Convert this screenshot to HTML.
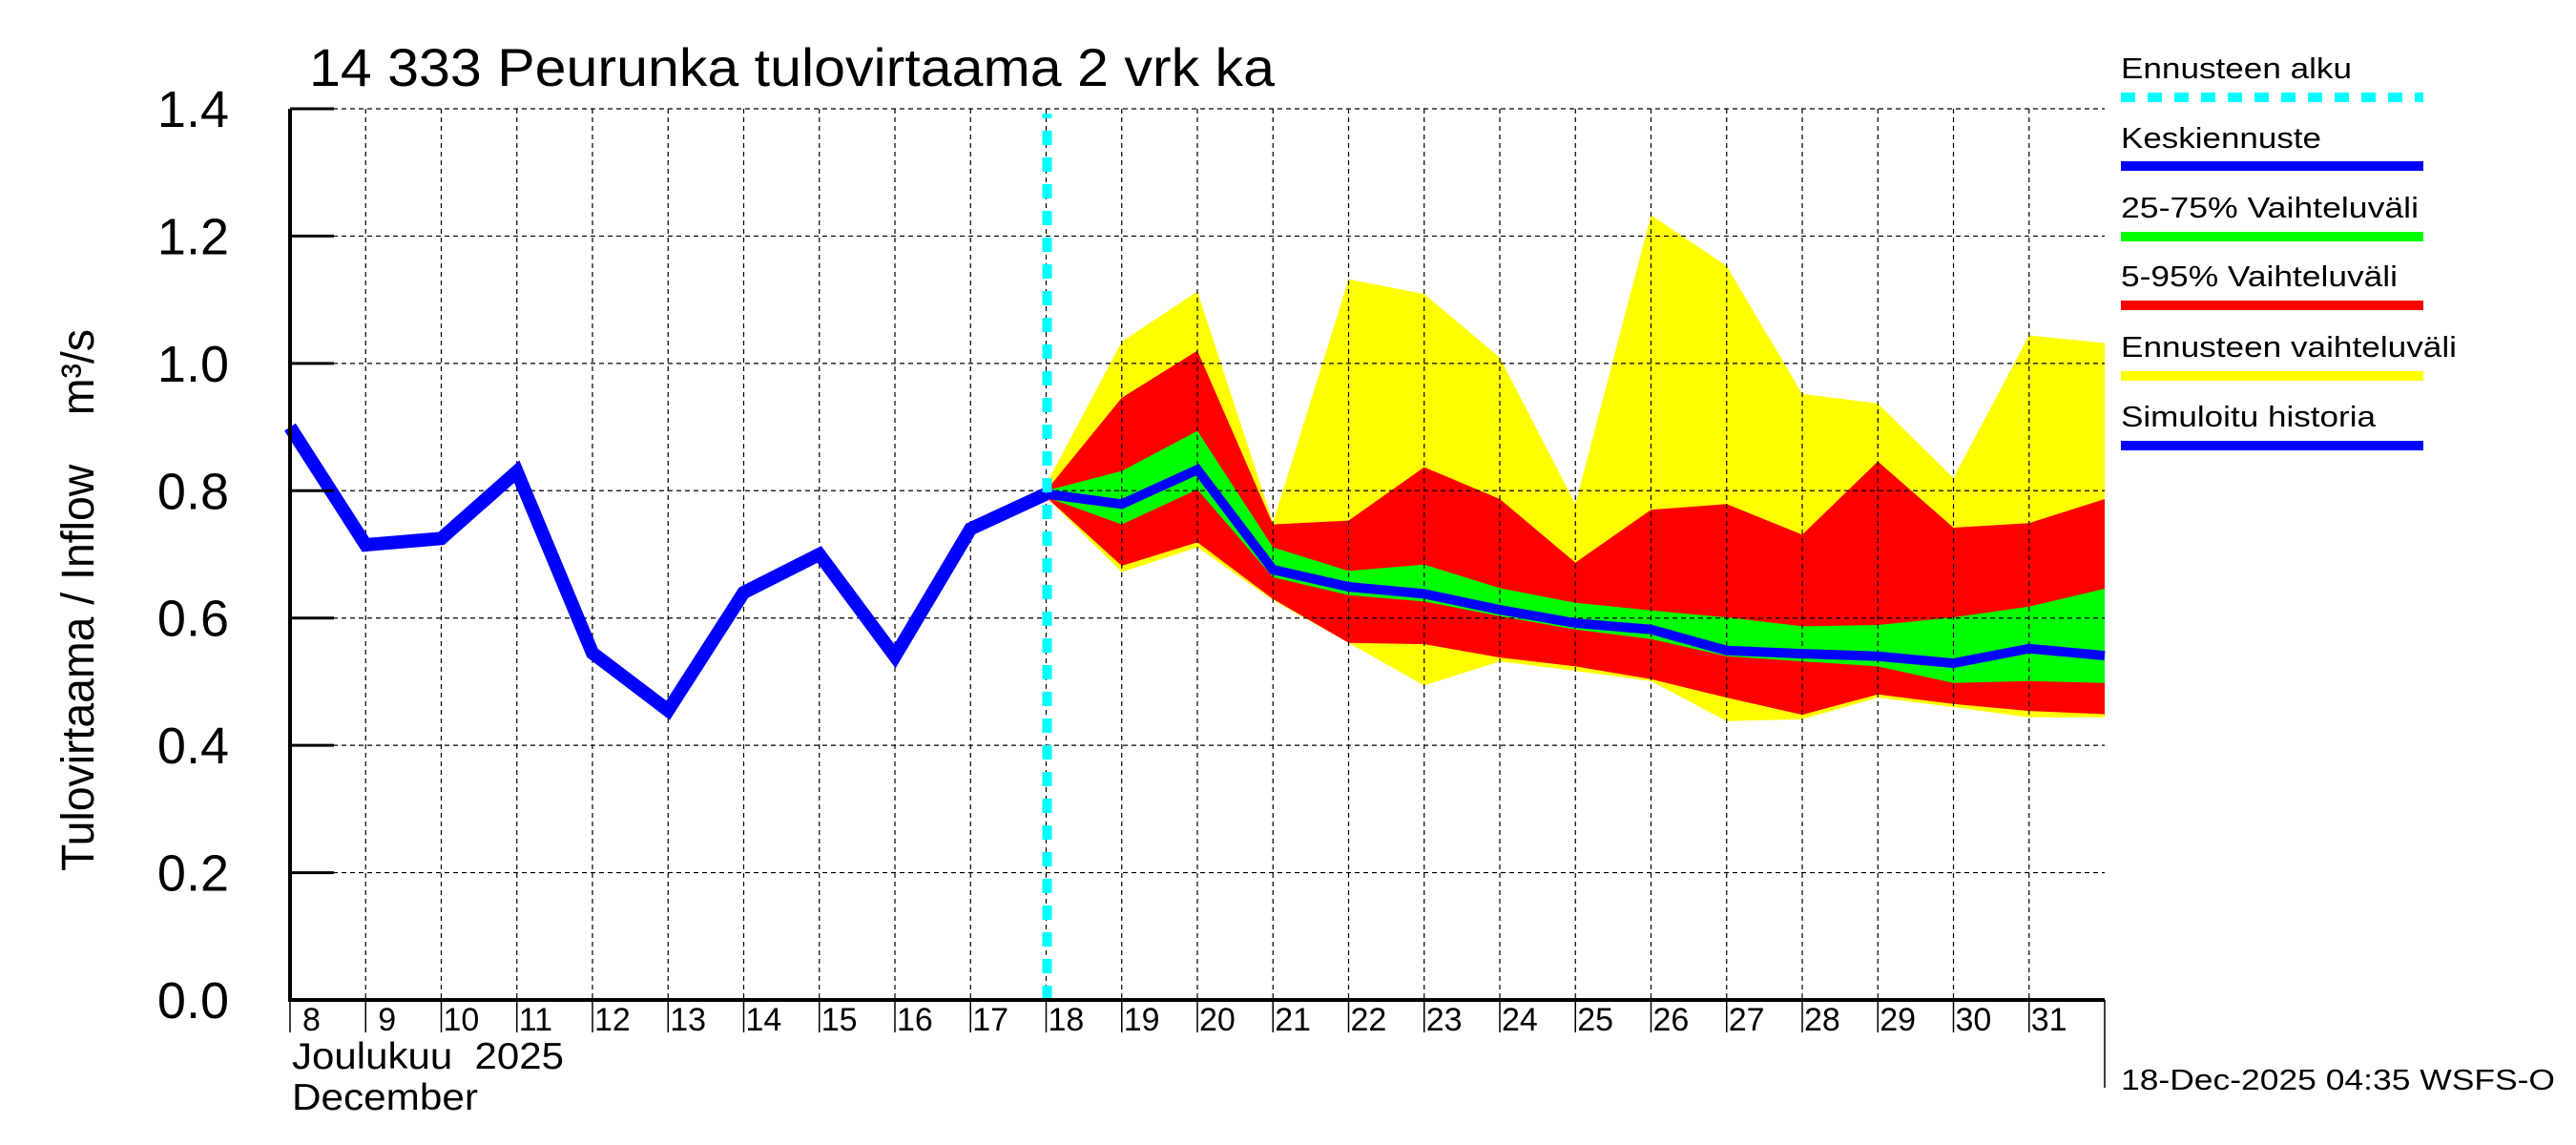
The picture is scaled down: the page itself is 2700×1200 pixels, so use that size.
<!DOCTYPE html>
<html><head><meta charset="utf-8"><style>
html,body{margin:0;padding:0;background:#fff;}
svg{display:block;font-family:"Liberation Sans",Arial,sans-serif;}
</style></head><body>
<svg id="chart" width="2700" height="1200" viewBox="0 0 2700 1200" xmlns="http://www.w3.org/2000/svg">
<g id="bands"></g>
<g id="grid"></g>
<g id="lines"></g>
<g id="axes"></g>
<text x="324" y="90" font-size="56" textLength="1012" lengthAdjust="spacingAndGlyphs">14 333 Peurunka tulovirtaama 2 vrk ka</text>
<text transform="translate(98,629) rotate(-90)" font-size="48" text-anchor="middle" style="white-space:pre" textLength="568" lengthAdjust="spacingAndGlyphs">Tulovirtaama / Inflow    m³/s</text>
<text x="306" y="1120" font-size="39" style="white-space:pre" textLength="285" lengthAdjust="spacingAndGlyphs">Joulukuu  2025</text>
<text x="306" y="1163" font-size="39" textLength="195" lengthAdjust="spacingAndGlyphs">December</text>
<text x="2223" y="1142" font-size="31" textLength="455" lengthAdjust="spacingAndGlyphs">18-Dec-2025 04:35 WSFS-O</text>
<g id="legend">
 <g><text x="2223" y="82" font-size="31" textLength="242" lengthAdjust="spacingAndGlyphs">Ennusteen alku</text><line x1="2223" y1="102" x2="2540" y2="102" stroke="#00ffff" stroke-width="10" stroke-dasharray="15,13"/></g>
 <g><text x="2223" y="155" font-size="31" textLength="210" lengthAdjust="spacingAndGlyphs">Keskiennuste</text><line x1="2223" y1="174" x2="2540" y2="174" stroke="#0000ff" stroke-width="10"/></g>
 <g><text x="2223" y="228" font-size="31" textLength="312" lengthAdjust="spacingAndGlyphs">25-75% Vaihteluväli</text><line x1="2223" y1="248" x2="2540" y2="248" stroke="#00ff00" stroke-width="10"/></g>
 <g><text x="2223" y="300" font-size="31" textLength="290" lengthAdjust="spacingAndGlyphs">5-95% Vaihteluväli</text><line x1="2223" y1="320" x2="2540" y2="320" stroke="#ff0000" stroke-width="10"/></g>
 <g><text x="2223" y="374" font-size="31" textLength="352" lengthAdjust="spacingAndGlyphs">Ennusteen vaihteluväli</text><line x1="2223" y1="394" x2="2540" y2="394" stroke="#ffff00" stroke-width="10"/></g>
 <g><text x="2223" y="447" font-size="31" textLength="267" lengthAdjust="spacingAndGlyphs">Simuloitu historia</text><line x1="2223" y1="467" x2="2540" y2="467" stroke="#0000ff" stroke-width="10"/></g>
</g>
</svg>
<script>
const histDays=[8,9,10,11,12,13,14,15,16,17,18];
const histVals=[0.90,0.715,0.725,0.83,0.545,0.455,0.64,0.70,0.54,0.74,0.795];
const fcDays=[18,19,20,21,22,23,24,25,26,27,28,29,30,31,32];
const median=[0.795,0.779,0.833,0.676,0.649,0.638,0.613,0.592,0.582,0.549,0.544,0.540,0.529,0.552,0.541];
const yelHi=[0.81,1.034,1.113,0.75,1.132,1.109,1.009,0.779,1.233,1.153,0.952,0.937,0.82,1.044,1.032];
const yelLo=[0.79,0.672,0.711,0.628,0.561,0.494,0.532,0.517,0.501,0.438,0.441,0.475,0.460,0.444,0.444];
const redHi=[0.80,0.946,1.02,0.747,0.753,0.837,0.787,0.687,0.77,0.779,0.731,0.846,0.742,0.749,0.787];
const redLo=[0.79,0.682,0.719,0.63,0.561,0.559,0.538,0.524,0.504,0.475,0.448,0.480,0.465,0.454,0.449];
const grnHi=[0.80,0.831,0.894,0.711,0.674,0.684,0.647,0.624,0.612,0.601,0.587,0.589,0.601,0.618,0.646];
const grnLo=[0.79,0.747,0.802,0.664,0.636,0.626,0.603,0.582,0.567,0.540,0.532,0.524,0.498,0.501,0.498];
const yTicks=[0,0.2,0.4,0.6,0.8,1.0,1.2,1.4];
const yTickLabels=["0.0","0.2","0.4","0.6","0.8","1.0","1.2","1.4"];
const xTickDays=[8,9,10,11,12,13,14,15,16,17,18,19,20,21,22,23,24,25,26,27,28,29,30,31];
const forecastStart=18;

const L=304,R=2206,T=114,B=1048;
const X=d=>L+(d-8)*(R-L)/24;
const Y=v=>B-v*(B-T)/1.4;
const NS='http://www.w3.org/2000/svg';
function mk(tag,attrs,parent){const e=document.createElementNS(NS,tag);for(const k in attrs)e.setAttribute(k,attrs[k]);parent.appendChild(e);return e;}
const bands=document.getElementById('bands'),grid=document.getElementById('grid'),lines=document.getElementById('lines'),axes=document.getElementById('axes');
function band(hi,lo,color,name){
 const pts=fcDays.map((d,i)=>X(d)+','+Y(hi[i])).concat(fcDays.slice().reverse().map((d,j)=>{const i=fcDays.length-1-j;return X(d)+','+Y(lo[i]);}));
 const p=mk('polygon',{points:pts.join(' '),fill:color},bands);
 
 
}
band(yelHi,yelLo,'#ffff00','band-range');
band(redHi,redLo,'#ff0000','band-5-95');
band(grnHi,grnLo,'#00ff00','band-25-75');
yTicks.forEach((v,i)=>{
 if(v>0){const g=mk('line',{x1:L,x2:R,y1:Y(v),y2:Y(v),stroke:'#000','stroke-width':1.2,'stroke-dasharray':'5,4'},grid);
 
 }
 const t=mk('line',{x1:L,x2:L+46,y1:Y(v),y2:Y(v),stroke:'#000','stroke-width':3},axes);
 
 
 const lb=mk('text',{x:240,y:Y(v)+19,'font-size':54,'text-anchor':'end'},axes);
 lb.textContent=yTickLabels[i];
 
 
});
xTickDays.forEach(d=>{
 if(d>8){const g=mk('line',{x1:X(d),x2:X(d),y1:T,y2:B,stroke:'#000','stroke-width':1.2,'stroke-dasharray':'5,4'},grid);
 
 }
 const t=mk('line',{x1:X(d),x2:X(d),y1:B,y2:1082,stroke:'#000','stroke-width':1.5},axes);
 
 
 const lb=mk('text',{x:X(d)+(d>=10?2:13),y:1080,'font-size':34},axes);
 lb.textContent=String(d);
 
 
});
const ax1=mk('line',{x1:L,x2:L,y1:T,y2:B+2,stroke:'#000','stroke-width':4},axes);


const ax2=mk('line',{x1:L-2,x2:R,y1:B,y2:B,stroke:'#000','stroke-width':4},axes);


const ax3=mk('line',{x1:R,x2:R,y1:B,y2:1140,stroke:'#000','stroke-width':1.5},axes);


const h=mk('polyline',{points:histDays.map((d,i)=>X(d)+','+Y(histVals[i])).join(' '),fill:'none',stroke:'#0000ff','stroke-width':14},lines);


const m=mk('polyline',{points:fcDays.map((d,i)=>X(d)+','+Y(median[i])).join(' '),fill:'none',stroke:'#0000ff','stroke-width':10},lines);


const c=mk('line',{x1:X(forecastStart)+1,x2:X(forecastStart)+1,y1:B,y2:T+5,stroke:'#00ffff','stroke-width':10,'stroke-dasharray':'15,13'},lines);


</script>
</body></html>
